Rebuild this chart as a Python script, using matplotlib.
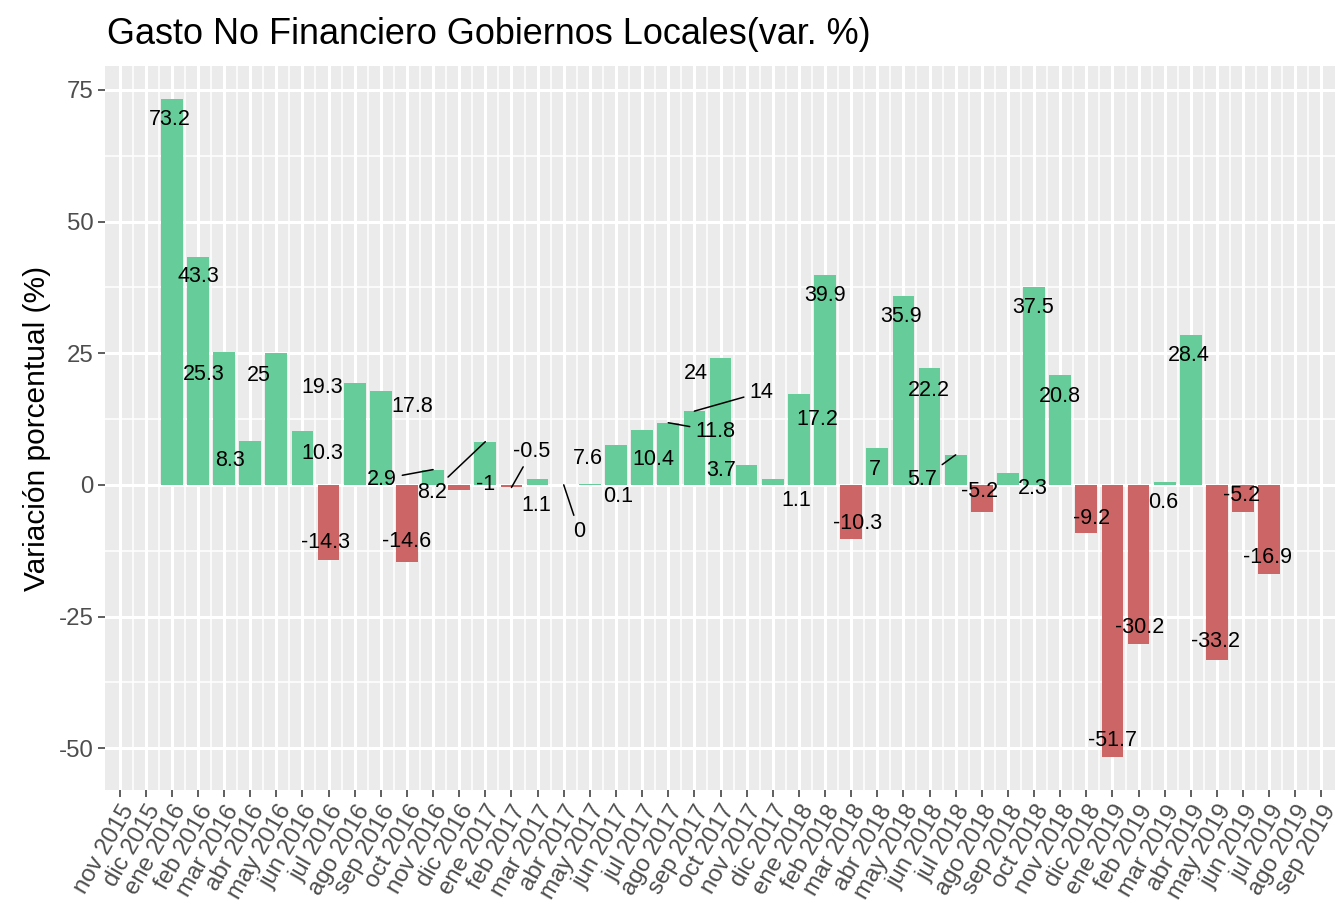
import numpy as np
import matplotlib.pyplot as plt

plt.rcParams["font.family"] = ["Liberation Sans", "DejaVu Sans"]
plt.rcParams["axes.unicode_minus"] = False

# datos: variación % mensual, ene 2016 .. jul 2019
meses = ["ene", "feb", "mar", "abr", "may", "jun", "jul", "ago", "sep", "oct", "nov", "dic"]
valores = [
    73.2, 43.3, 25.3, 8.3, 25, 10.3, -14.3, 19.3, 17.8, -14.6, 2.9, -1,
    8.2, -0.5, 1.1, 0, 0.1, 7.6, 10.4, 11.8, 14, 24, 3.7, 1.1,
    17.2, 39.9, -10.3, 7, 35.9, 22.2, 5.7, -5.2, 2.3, 37.5, 20.8, -9.2,
    -51.7, -30.2, 0.6, 28.4, -33.2, -5.2, -16.9,
]

# posiciones de las etiquetas (como quedaron con ggrepel), en meses y en %
etiqueta_x = [
    -0.08, 1.0, 1.23, 2.22, 3.33, 5.78, 5.90, 5.74, 9.19, 9.0, 8.04, 11.99,
    9.96, 13.79, 13.94, 15.59, 17.08, 15.93, 18.42, 20.80, 22.56, 20.07, 21.03, 23.90,
    24.70, 25.01, 26.24, 26.92, 27.92, 28.99, 28.72, 30.91, 32.94, 32.98, 33.97, 35.20,
    36.0, 37.04, 37.95, 38.91, 39.95, 40.94, 41.94,
]
etiqueta_y = [
    69.4, 39.5, 21.0, 4.6, 20.7, 6.0, -10.9, 18.4, 14.9, -10.7, 1.1, 0.0,
    -1.4, 6.4, -4.0, -8.8, -2.3, 5.1, 4.9, 10.2, 17.6, 21.2, 2.8, -2.9,
    12.5, 36.0, -7.4, 3.0, 32.0, 18.0, 1.1, -1.2, -0.6, 33.7, 16.8, -6.3,
    -48.6, -27.0, -3.3, 24.5, -29.8, -2.1, -13.7,
]
con_linea = [10, 12, 13, 15, 19, 20, 30]

W, H = 1335, 905
fig = plt.figure(figsize=(W / 100, H / 100), dpi=100)
ax = fig.add_axes([105 / W, 1 - 790 / H, 1231 / W, 723.5 / H])
ax.set_facecolor("#EBEBEB")
for s in ax.spines.values():
    s.set_visible(False)

x = np.arange(len(valores))
colores = ["#66CC99" if v >= 0 else "#CC6666" for v in valores]
ax.bar(x, valores, width=0.83, color=colores, zorder=2)

for i, v in enumerate(valores):
    texto = f"{v:g}"
    if i in con_linea:
        ax.annotate(texto, xy=(i, v), xytext=(etiqueta_x[i], etiqueta_y[i]),
                    ha="center", va="center", fontsize=15.5, zorder=3,
                    arrowprops=dict(arrowstyle="-", color="black", lw=1.1,
                                    shrinkA=2, shrinkB=0))
    else:
        ax.text(etiqueta_x[i], etiqueta_y[i], texto, ha="center", va="center",
                fontsize=15.5, zorder=3)

# eje x: nov 2015 .. sep 2019
ticks = np.arange(-2, 45)
ax.set_xticks(ticks)
ax.set_xticks(ticks[:-1] + 0.5, minor=True)
ax.set_xticklabels([f"{meses[t % 12]} {2016 + t // 12}" for t in ticks],
                   rotation=60, ha="right", va="top", rotation_mode="anchor")
ax.set_xlim(-2.555, 44.555)

ax.set_yticks([-50, -25, 0, 25, 50, 75])
ax.set_yticks([-37.5, -12.5, 12.5, 37.5, 62.5], minor=True)
ax.set_ylim(-57.945, 79.445)

ax.set_axisbelow(True)
ax.grid(which="major", color="white", lw=2.2, zorder=0)
ax.grid(which="minor", color="white", lw=1.1, zorder=0)
ax.tick_params(which="major", length=5, width=1.1, color="#333333",
               labelsize=17.3, labelcolor="#4D4D4D", pad=3)
ax.tick_params(which="minor", length=0)

fig.text(107 / W, 1 - 35 / H, "Gasto No Financiero Gobiernos Locales(var. %)",
         fontsize=25.9, ha="left", va="center")
fig.text(37 / W, 1 - 428 / H, "Variación porcentual (%)", rotation=90,
         fontsize=21.5, ha="center", va="center")

fig.savefig("out.png", dpi=100)
